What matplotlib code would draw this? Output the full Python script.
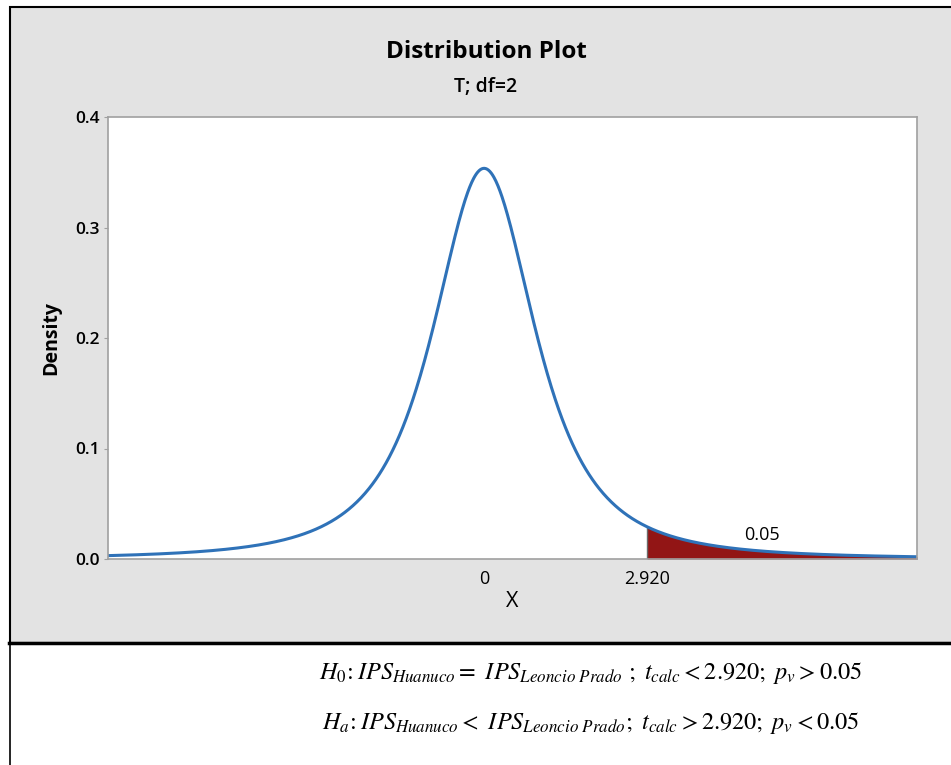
import numpy as np
import matplotlib.pyplot as plt
from matplotlib.patches import Rectangle
from matplotlib.lines import Line2D

# distribution parameters
df = 2
t_crit = 2.920
alpha = 0.05
x_min, x_max = -6.75, 7.77
x_ticks = [0, t_crit]
x_tick_labels = ["0", "2.920"]
y_ticks = [0.0, 0.1, 0.2, 0.3, 0.4]

plt.rcParams['mathtext.fontset'] = 'stix'
plt.rcParams['font.family'] = ['Open Sans', 'DejaVu Sans']


def t_pdf(x, nu):
    from math import gamma, pi, sqrt
    c = gamma((nu + 1) / 2) / (sqrt(nu * pi) * gamma(nu / 2))
    return c * (1 + x ** 2 / nu) ** (-(nu + 1) / 2)


fig = plt.figure(figsize=(9.51, 7.65), dpi=100)
W, H = 951, 765

# gray Minitab panel
panel = Rectangle((10 / W, 1 - 643 / H), 1 - 10 / W + 0.01, (643 - 7) / H,
                  transform=fig.transFigure, facecolor="#e3e3e3",
                  edgecolor="black", linewidth=1.5, zorder=-5)
fig.patches.append(panel)
fig.add_artist(Line2D([9 / W, 1], [1 - 643 / H] * 2, transform=fig.transFigure,
                      color="black", linewidth=2.5, zorder=-4))
fig.add_artist(Line2D([10 / W] * 2, [0, 1 - 643 / H], transform=fig.transFigure,
                      color="black", linewidth=1.2, zorder=-4))

ax = fig.add_axes([108 / W, 1 - 559 / H, (917 - 108) / W, (559 - 117) / H])
ax.set_zorder(2)
ax.set_facecolor("white")

x = np.linspace(x_min, x_max, 1200)
y = t_pdf(x, df)
xs = x[x >= t_crit]
ax.fill_between(xs, 0, t_pdf(xs, df), color="#921515", linewidth=0)
ax.plot([t_crit, t_crit], [0, t_pdf(t_crit, df)], color="#6b6b6b", linewidth=1)
ax.plot(x, y, color="#2f72b8", linewidth=2.2)

ax.text(4.99, 0.0135, f"{alpha:.2f}", fontsize=13, ha="center", va="bottom")

ax.set_xlim(x_min, x_max)
ax.set_ylim(0, 0.4)
ax.set_xticks(x_ticks)
ax.set_xticklabels(x_tick_labels, fontsize=13)
ax.set_yticks(y_ticks)
ax.set_yticklabels([f"{v:.1f}" for v in y_ticks], fontsize=12.5,
                   fontweight="semibold")
ax.tick_params(axis="x", length=0, pad=8)
ax.tick_params(axis="y", length=3, color="#a0a0a0", pad=3)
for s in ax.spines.values():
    s.set_color("#a0a0a0")
    s.set_linewidth(1.2)

ax.set_xlabel("X", fontsize=15.5, labelpad=2)
ax.set_ylabel("Density", fontsize=14, fontweight="bold", labelpad=10)

fig.text(486 / W, 1 - 52 / H, "Distribution Plot", fontsize=17.5,
         fontweight="bold", ha="center", va="center")
fig.text(486 / W, 1 - 87 / H, f"T; df={df}", fontsize=14,
         fontweight="semibold", ha="center", va="center")

line1 = (r"$H_0\!:IPS_{Huanuco}=\ IPS_{Leoncio\ Prado}\ ;\ t_{calc}<2.920;\ "
         r"p_v>0.05$")
line2 = (r"$H_a\!:IPS_{Huanuco}<\ IPS_{Leoncio\ Prado};\ t_{calc}>2.920;\ "
         r"p_v<0.05$")
fig.text(591 / W, 1 - 673 / H, line1, fontsize=17.5, ha="center", va="center")
fig.text(591 / W, 1 - 723 / H, line2, fontsize=17.5, ha="center", va="center")

fig.savefig("out.png", dpi=100)
